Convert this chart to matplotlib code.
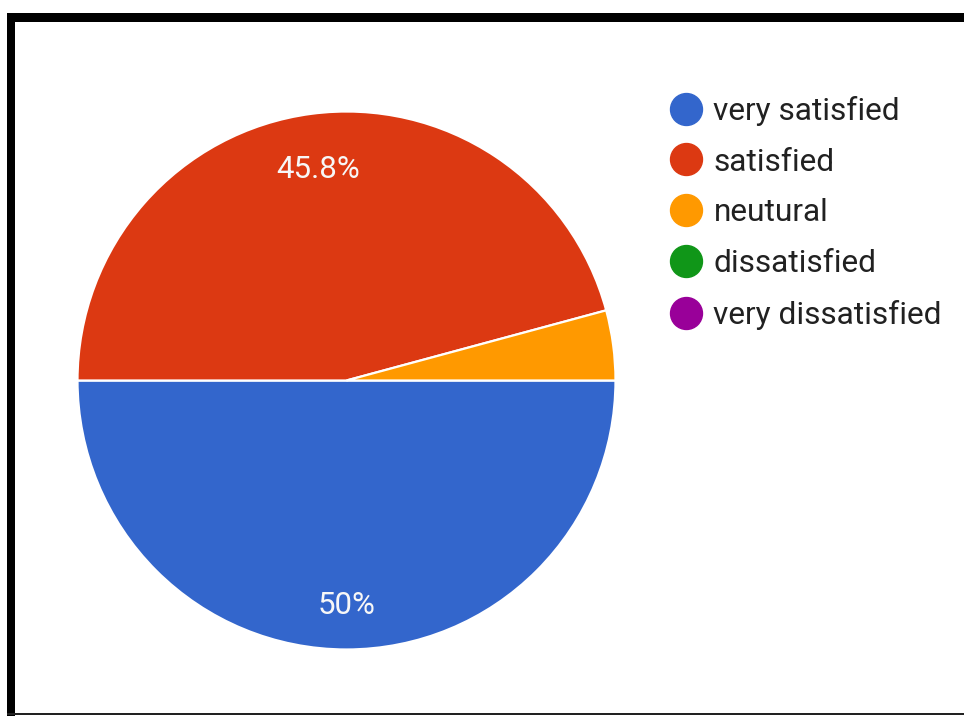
import matplotlib
matplotlib.use('Agg')
import matplotlib.pyplot as plt
import numpy as np
from matplotlib.lines import Line2D
from matplotlib.patches import Rectangle

# Survey answers (share of responses, %)
categories = ['very satisfied', 'satisfied', 'neutural', 'dissatisfied', 'very dissatisfied']
shares = [50.0, 45.8, 4.2, 0.0, 0.0]
colors = ['#3366CC', '#DC3912', '#FF9900', '#109618', '#990099']

plt.rcParams['font.family'] = ['Roboto', 'DejaVu Sans']

W, H = 964, 716
fig = plt.figure(figsize=(W / 100, H / 100), dpi=100)
fig.patch.set_facecolor('white')

# pie axes placed in pixel terms: centre (346, 380), radius ~269 px
cx, cy, r = 346.5, 380.5, 269
ax = fig.add_axes([(cx - r) / W, (H - cy - r) / H, 2 * r / W, 2 * r / H])
ax.set_xlim(-1, 1)
ax.set_ylim(-1, 1)
ax.set_aspect('equal')
ax.axis('off')

nonzero = [(s, c) for s, c in zip(shares, colors) if s > 0]
wedges, texts, autotexts = ax.pie(
    [s for s, _ in nonzero],
    colors=[c for _, c in nonzero],
    startangle=0, counterclock=False, radius=1,
    autopct=lambda p: f'{p:.1f}%'.replace('.0%', '%') if p > 5 else '',
    pctdistance=0.81,
    wedgeprops=dict(edgecolor='white', linewidth=1.6),
    textprops=dict(color='#f7f7f7', fontsize=22.5),
)
ax.set_xlim(-1, 1)
ax.set_ylim(-1, 1)

# nudge the percentage labels along each wedge's bisector
label_dist = [0.83, 0.80, 0.8]
for w, t, d in zip(wedges, autotexts, label_dist):
    mid = np.deg2rad((w.theta1 + w.theta2) / 2)
    t.set_position((d * np.cos(mid), d * np.sin(mid) - 0.007))

# legend with round swatches
handles = [Line2D([], [], linestyle='none', marker='o', markersize=23,
                  markerfacecolor=c, markeredgecolor=c) for c in colors]
fig.legend(handles, categories, loc='upper left',
           bbox_to_anchor=(658 / W, 1 - 83 / H), frameon=False,
           fontsize=22.8, labelcolor='#212121', handlelength=0.95,
           handletextpad=0.4, labelspacing=0.69, borderaxespad=0)

# black frame along the top, left and bottom edges
fig.add_artist(Rectangle((7 / W, 1 - 22 / H), 1, 9 / H, transform=fig.transFigure,
                         facecolor='black', edgecolor='none'))
fig.add_artist(Rectangle((7 / W, 0), 8 / W, 1 - 13 / H, transform=fig.transFigure,
                         facecolor='black', edgecolor='none'))
fig.add_artist(Rectangle((7 / W, 1 / H), 1, 2 / H, transform=fig.transFigure,
                         facecolor='#222222', edgecolor='none'))

fig.savefig('out.png', dpi=100, facecolor='white')
